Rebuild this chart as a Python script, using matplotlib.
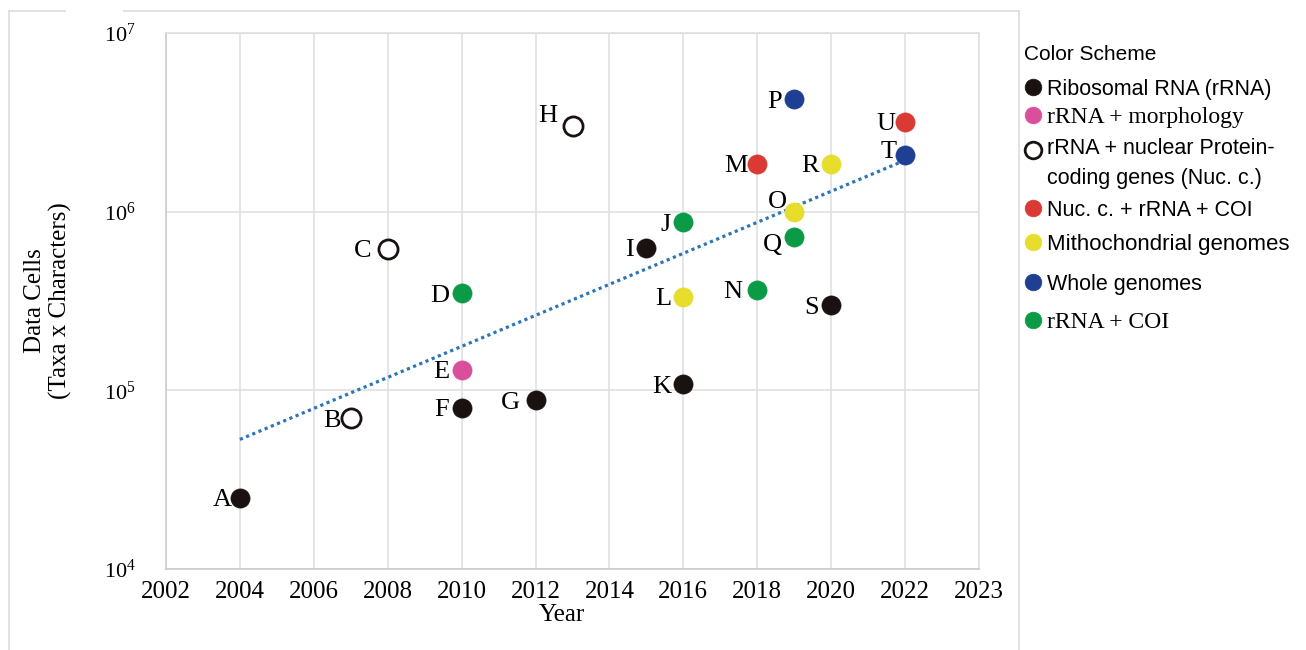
import numpy as np
import matplotlib
matplotlib.use("Agg")
import matplotlib.pyplot as plt
from matplotlib.lines import Line2D

# ---- data ----
labels = list("ABCDEFGHIJKLMNOPQRSTU")
years = [2004, 2007, 2008, 2010, 2010, 2010, 2012, 2013, 2015, 2016, 2016,
         2016, 2018, 2018, 2019, 2019, 2019, 2020, 2020, 2022, 2022]
cells = [2.5e4, 7.0e4, 6.2e5, 3.5e5, 1.3e5, 8.0e4, 8.8e4, 3.0e6, 6.3e5, 8.7e5,
         1.08e5, 3.35e5, 1.85e6, 3.66e5, 9.9e5, 4.27e6, 7.2e5, 1.85e6, 3.0e5,
         2.08e6, 3.18e6]
groups = [0, 2, 2, 6, 1, 0, 0, 2, 0, 6, 0, 4, 3, 6, 4, 5, 6, 4, 0, 5, 3]

categories = ["Ribosomal RNA (rRNA)", "rRNA + morphology",
              "rRNA + nuclear Protein-\ncoding genes (Nuc. c.)",
              "Nuc. c. + rRNA + COI", "Mithochondrial genomes",
              "Whole genomes", "rRNA + COI"]
colors = ["#1a1210", "#d94f9c", "white", "#d93a33", "#e6dd2c", "#1f3f94", "#0b9a45"]
edges = ["#1a1210", "#d94f9c", "#1a1210", "#d93a33", "#e6dd2c", "#1f3f94", "#0b9a45"]

xticks = list(range(2002, 2025, 2))
xticklabels = [str(t) for t in xticks[:-1]] + ["2023"]

# label offsets in points (dx, dy) relative to the marker
offsets = {"A": (-6, 0), "B": (-7, 0), "C": (-12, 0), "G": (-11, 0),
           "N": (-11, 0), "M": (-7, 0), "R": (-9, 0), "U": (-7, 0),
           "H": (-11, 9), "O": (-5, 9), "Q": (-9, -4), "T": (-6, 4)}

plt.rcParams["font.family"] = ["Liberation Serif", "DejaVu Serif"]
plt.rcParams["mathtext.fontset"] = "stix"

fig = plt.figure(figsize=(13.06, 6.5), dpi=100)
ax = fig.add_axes([166 / 1306, 1 - 569 / 650, (979 - 166) / 1306, (569 - 33) / 650])

ax.set_yscale("log")
ax.set_xlim(2002, 2024)
ax.set_ylim(1e4, 1e7)
ax.set_xticks(xticks)
ax.set_xticklabels(xticklabels, fontsize=18)
ax.set_yticks([1e4, 1e5, 1e6, 1e7])
ax.set_yticklabels([r"$\mathregular{10^{%d}}$" % p for p in range(4, 8)], fontsize=16)
ax.yaxis.set_minor_locator(matplotlib.ticker.NullLocator())
ax.tick_params(length=0, pad=9)
ax.tick_params(axis="y", pad=22)
ax.grid(True, color="#dedede", linewidth=1.1)
ax.set_axisbelow(True)
for s in ax.spines.values():
    s.set_color("#dedede")
    s.set_linewidth(1.1)
ax.spines["bottom"].set_color("#c8c8c8")
ax.spines["left"].set_color("#c8c8c8")

ax.set_xlabel("Year", fontsize=18)
ax.xaxis.set_label_coords((562 - 166) / (979 - 166), -0.066)
ax.set_ylabel("Data Cells\n(Taxa x Characters)", fontsize=18, linespacing=1.15)
ax.yaxis.set_label_coords(-(166 - 72) / (979 - 166), 0.5)

# exponential trend line (least squares on log10)
k, b = np.polyfit(years, np.log10(cells), 1)
tx = np.array([2004, 2022])
ax.plot(tx, 10 ** (k * tx + b), color="#2e75b6", linestyle=(0, (1, 1.1)),
        linewidth=2.3, zorder=2)

for lab, x, y, g in zip(labels, years, cells, groups):
    ax.scatter(x, y, s=190, c=colors[g], edgecolors=edges[g],
               linewidths=2 if g == 2 else 0.5, zorder=3)
    dx, dy = offsets.get(lab, (-9, 0))
    ax.annotate(lab, (x, y), xytext=(dx, dy), textcoords="offset points",
                ha="right", va="center_baseline", fontsize=19, zorder=4)

# outer chart frame
frame = dict(color="#dcdcdc", linewidth=1.2, transform=fig.transFigure, clip_on=False)
fig.add_artist(Line2D([9 / 1306, 9 / 1306], [0, 1 - 11 / 650], **frame))
fig.add_artist(Line2D([9 / 1306, 65 / 1306], [1 - 11 / 650] * 2, **frame))
fig.add_artist(Line2D([124 / 1306, 1019 / 1306], [1 - 11 / 650] * 2, **frame))
fig.add_artist(Line2D([1019 / 1306, 1019 / 1306], [0, 1 - 11 / 650], **frame))

# legend (color scheme)
sans = ["Liberation Sans Narrow", "Liberation Sans", "DejaVu Sans"]
serif = ["Liberation Serif", "DejaVu Serif"]
fig.text(1024 / 1306, 1 - 52 / 650, "Color Scheme", family=sans, fontsize=15,
         va="center_baseline", ha="left")
row_y = [87, 115, 150, 208, 242, 282, 320]
fonts = [sans, serif, sans, sans, sans, sans, serif]
fsizes = [15.5, 17, 15.5, 15.5, 16, 15.5, 17]
for i, (cat, yy) in enumerate(zip(categories, row_y)):
    lw = 2 if i == 2 else 0.5
    fig.add_artist(Line2D([1033 / 1306], [1 - yy / 650], marker="o", markersize=12,
                          markerfacecolor=colors[i], markeredgecolor=edges[i],
                          markeredgewidth=lw, linestyle="none",
                          transform=fig.transFigure))
    if "\n" in cat:
        fig.text(1047 / 1306, 1 - (yy - 12) / 650, cat, family=fonts[i],
                 fontsize=fsizes[i], va="top", ha="left", linespacing=1.55)
    else:
        fig.text(1047 / 1306, 1 - yy / 650, cat, family=fonts[i],
                 fontsize=fsizes[i], va="center_baseline", ha="left")

fig.savefig("out.png", dpi=100, facecolor="white")
